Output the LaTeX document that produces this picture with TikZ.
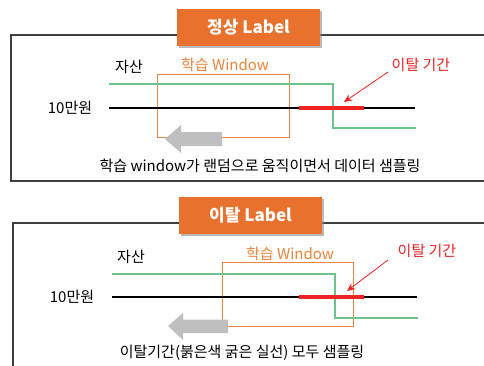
\documentclass[tikz,border=0pt]{standalone}
\usepackage{fontspec}
\setmainfont{Noto Sans CJK KR}
\usetikzlibrary{shadows,arrows.meta}
\definecolor{ttl}{HTML}{E9712E}
\definecolor{win}{HTML}{F0843C}
\definecolor{grn}{HTML}{6CC48C}
\definecolor{redl}{HTML}{EE2424}
\definecolor{arr}{HTML}{BFBFBF}
\definecolor{frm}{HTML}{404040}
\tikzset{
  frame/.style={draw=frm, line width=1.3pt},
  titlebox/.style={fill=ttl, text=white, font=\bfseries\fontsize{17}{19}\selectfont, minimum width=143pt, minimum height=37pt, inner sep=0pt, drop shadow={shadow xshift=2pt, shadow yshift=-2pt, fill=black!45, opacity=0.6}},
  lbl/.style={font=\fontsize{15}{17}\selectfont, inner sep=0pt},
  winlbl/.style={lbl, text=win},
  redlbl/.style={lbl, text=redl},
  winbox/.style={draw=win, line width=0.9pt},
  grnline/.style={draw=grn, line width=1.2pt},
  blkline/.style={draw=black, line width=1.5pt},
  redline/.style={draw=redl, line width=4pt},
  redarrow/.style={draw=redl, line width=0.8pt, -{Stealth[length=8pt,width=7pt]}},
  grayarrow/.style={fill=arr, draw=none},
}
\begin{document}
\begin{tikzpicture}[x=1pt,y=-1pt]
\useasboundingbox (0,0) rectangle (484,365);
\clip (0,0) rectangle (484,365);
\fill[white] (0,0) rectangle (484,365);

% ===== top panel =====
\draw[frame] (11,35) rectangle (495,181);
\node[titlebox] (t1) at (248.5,27.5) {정상 Label};
\node[lbl] (a1) at (129,67) {자산};
\node[winlbl] (w1) at (225,65) {학습 Window};
\node[lbl] (m1) at (70,108) {10만원};
\node[redlbl] (r1) at (421,65) {이탈 기간};
\draw[winbox] (157,74) rectangle (289,137);
\coordinate (g1a) at (109,84);
\coordinate (g1b) at (333,84);
\coordinate (g1c) at (333,128);
\coordinate (g1d) at (416,128);
\draw[grnline] (g1a) -- (g1b) -- (g1c) -- (g1d);
\coordinate (b1a) at (109,108);
\coordinate (b1b) at (415,108);
\draw[blkline] (b1a) -- (b1b);
\coordinate (rr1a) at (299,108);
\coordinate (rr1b) at (364,108);
\draw[redline] (rr1a) -- (rr1b);
\coordinate (ra1) at (388,72);
\coordinate (rb1) at (344,102);
\draw[redarrow] (ra1) -- (rb1);
\fill[grayarrow] (165,139) -- (181,125) -- (181,132) -- (222,132) -- (222,146) -- (181,146) -- (181,153) -- cycle;
\node[lbl] (s1) at (260,166) {학습 window가 랜덤으로 움직이면서 데이터 샘플링};

% ===== bottom panel =====
\draw[frame] (13,223) rectangle (495,380);
\node[titlebox] (t2) at (250.5,215) {이탈 Label};
\node[lbl] (a2) at (131,257) {자산};
\node[winlbl] (w2) at (290,253.5) {학습 Window};
\node[lbl] (m2) at (72,297) {10만원};
\node[redlbl] (r2) at (427,251) {이탈 기간};
\draw[winbox] (222,262) rectangle (353,326);
\coordinate (g2a) at (112,274);
\coordinate (g2b) at (335,274);
\coordinate (g2c) at (335,318);
\coordinate (g2d) at (418,318);
\draw[grnline] (g2a) -- (g2b) -- (g2c) -- (g2d);
\coordinate (b2a) at (112,297);
\coordinate (b2b) at (417,297);
\draw[blkline] (b2a) -- (b2b);
\coordinate (rr2a) at (299,297);
\coordinate (rr2b) at (364,297);
\draw[redline] (rr2a) -- (rr2b);
\coordinate (ra2) at (388,260);
\coordinate (rb2) at (347,291);
\draw[redarrow] (ra2) -- (rb2);
\fill[grayarrow] (168,326) -- (183,313) -- (183,319.5) -- (228,319.5) -- (228,333) -- (183,333) -- (183,340) -- cycle;
\node[lbl] (s2) at (242,353) {이탈기간(붉은색 굵은 실선) 모두 샘플링};
\end{tikzpicture}
\end{document}
